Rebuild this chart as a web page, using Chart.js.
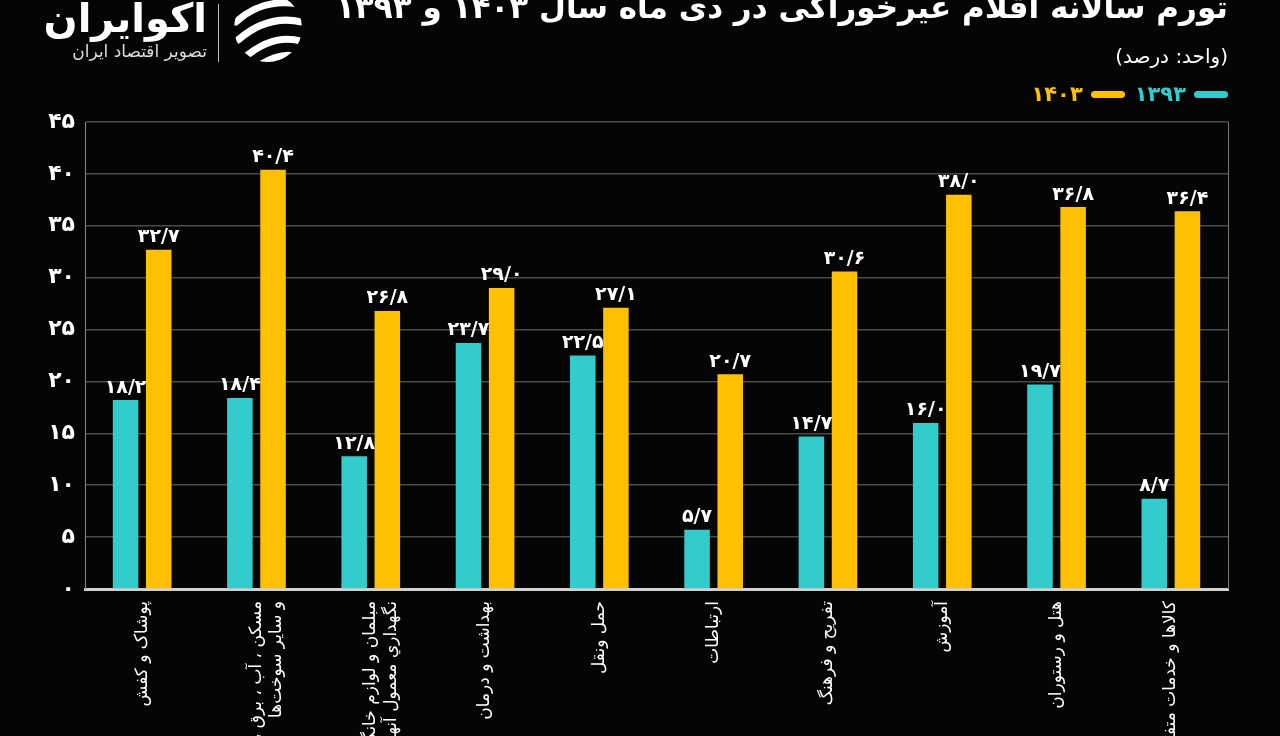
<!DOCTYPE html>
<html lang="fa">
<head>
<meta charset="utf-8">
<script src="https://cdn.jsdelivr.net/npm/chart.js@4"></script>
<style>
    html, body { margin: 0; padding: 0; background: #050505; }
    #wrap { position: relative; width: 1280px; height: 736px; overflow: hidden; background: #050505; font-family: "DejaVu Sans", sans-serif; }
    #chart { position: absolute; left: 0; top: 0; }
    .title { position: absolute; right: 52px; top: -11px; color: #fff; font-weight: bold; font-size: 31px; direction: rtl; white-space: nowrap; }
    .unit { position: absolute; right: 52px; top: 44px; color: #fff; font-size: 20px; direction: rtl; }
    .legend { position: absolute; right: 52px; top: 82px; direction: rtl; display: flex; align-items: center; font-weight: bold; font-size: 21px; }
    .legend span.sw { display: inline-block; width: 34px; height: 7px; border-radius: 4px; margin-left: 8px; }
    .legend span.tx { margin-left: 10px; }
    .logo { position: absolute; left: 0; top: 0; }
    .brand { position: absolute; right: 1073px; top: -5px; color: #fff; font-weight: bold; font-size: 40px; direction: rtl; white-space: nowrap; }
    .brand-sub { position: absolute; right: 1073px; top: 41px; color: #ddd; font-size: 17px; direction: rtl; white-space: nowrap; }
    .sep { position: absolute; left: 218px; top: 4px; width: 1px; height: 58px; background: #bbb; }
</style>
</head>
<body>
<div id="wrap">
    <canvas id="chart" width="1280" height="736"></canvas>

    <div class="brand">اکوایران</div>
    <div class="brand-sub">تصویر اقتصاد ایران</div>
    <div class="sep"></div>
    <svg class="logo" width="320" height="70">
        <defs>
            <clipPath id="c"><circle cx="268" cy="28" r="34"></circle></clipPath>
        </defs>
        <g clip-path="url(#c)" fill="none" stroke="#fff" stroke-width="7" stroke-linecap="round">
            <path d="M236 22 Q262 -2 298 4"></path>
            <path d="M238 40 Q268 14 302 22"></path>
            <path d="M244 58 Q274 32 304 42"></path>
            <path d="M258 66 Q284 50 300 58"></path>
        </g>
    </svg>

    <div class="title">تورم سالانه اقلام غیرخوراکی در دی ماه سال ۱۴۰۳ و ۱۳۹۳</div>
    <div class="unit">(واحد: درصد)</div>
    <div class="legend">
        <span class="sw" style="background:#33cccc"></span><span class="tx" style="color:#33cccc">۱۳۹۳</span>
        <span class="sw" style="background:#ffc000"></span><span class="tx" style="color:#ffc000">۱۴۰۳</span>
    </div>
</div>

<script>
// data
const categories = [
    "پوشاک و کفش",
    ["مسکن ، آب ، برق ، گاز", "و سایر سوخت‌ها"],
    ["مبلمان و لوازم خانگی و", "نگهداري معمول آنها"],
    "بهداشت و درمان",
    "حمل ونقل",
    "ارتباطات",
    "تفریح و فرهنگ",
    "آموزش",
    "هتل و رستوران",
    "کالاها و خدمات متفرقه"
];
const values1393 = [18.2, 18.4, 12.8, 23.7, 22.5, 5.7, 14.7, 16.0, 19.7, 8.7];
const values1403 = [32.7, 40.4, 26.8, 29.0, 27.1, 20.7, 30.6, 38.0, 36.8, 36.4];
const yTicks = [0, 5, 10, 15, 20, 25, 30, 35, 40, 45];

const teal = "#33cccc";
const yellow = "#ffc000";

function toFa(s) {
    return String(s).replace(/[0-9]/g, d => "۰۱۲۳۴۵۶۷۸۹"[d]);
}

// value labels above bars + right frame line
const barLabels = {
    id: "barLabels",
    afterDatasetsDraw(chart) {
        const ctx = chart.ctx;
        ctx.save();
        ctx.fillStyle = "#fff";
        ctx.font = "bold 19px 'DejaVu Sans'";
        ctx.textAlign = "center";
        ctx.textBaseline = "bottom";
        chart.data.datasets.forEach((ds, i) => {
            chart.getDatasetMeta(i).data.forEach((bar, j) => {
                const txt = toFa(ds.data[j].toFixed(1)).replace(".", "/");
                ctx.fillText(txt, bar.x, bar.y - 3);
            });
        });
        const a = chart.chartArea;
        ctx.strokeStyle = "#777";
        ctx.lineWidth = 1;
        ctx.beginPath();
        ctx.moveTo(a.right + 0.5, a.top);
        ctx.lineTo(a.right + 0.5, a.bottom);
        ctx.stroke();
        ctx.restore();
    }
};

new Chart(document.getElementById("chart"), {
    type: "bar",
    data: {
        labels: categories,
        datasets: [
            {
                label: "۱۳۹۳",
                data: values1393,
                backgroundColor: teal,
                categoryPercentage: 0.58,
                barPercentage: 0.77,
            },
            {
                label: "۱۴۰۳",
                data: values1403,
                backgroundColor: yellow,
                categoryPercentage: 0.58,
                barPercentage: 0.77,
            },
        ],
    },
    options: {
        responsive: false,
        animation: false,
        layout: {
            padding: { top: 122, right: 52, left: 20, bottom: 0 },
        },
        plugins: {
            legend: { display: false },
            tooltip: { enabled: false },
        },
        scales: {
            x: {
                grid: { display: false },
                border: { color: "#d0d0d0", width: 3 },
                ticks: {
                    color: "#fff",
                    font: { family: "DejaVu Sans", size: 17 },
                    minRotation: 90,
                    maxRotation: 90,
                    autoSkip: false,
                    padding: 4,
                },
                afterFit(scale) {
                    scale.height = 147;
                },
            },
            y: {
                min: 0,
                max: 45,
                afterBuildTicks(scale) {
                    scale.ticks = yTicks.map(v => ({ value: v }));
                },
                grid: { color: "#4a4a4a", lineWidth: 1.5, drawTicks: false },
                border: { color: "#888", width: 1 },
                ticks: {
                    color: "#fff",
                    font: { family: "DejaVu Sans", size: 22, weight: "bold" },
                    padding: 10,
                    callback: v => toFa(v),
                },
                afterFit(scale) {
                    scale.width = 65;
                },
            },
        },
    },
    plugins: [barLabels],
});
</script>
</body>
</html>
